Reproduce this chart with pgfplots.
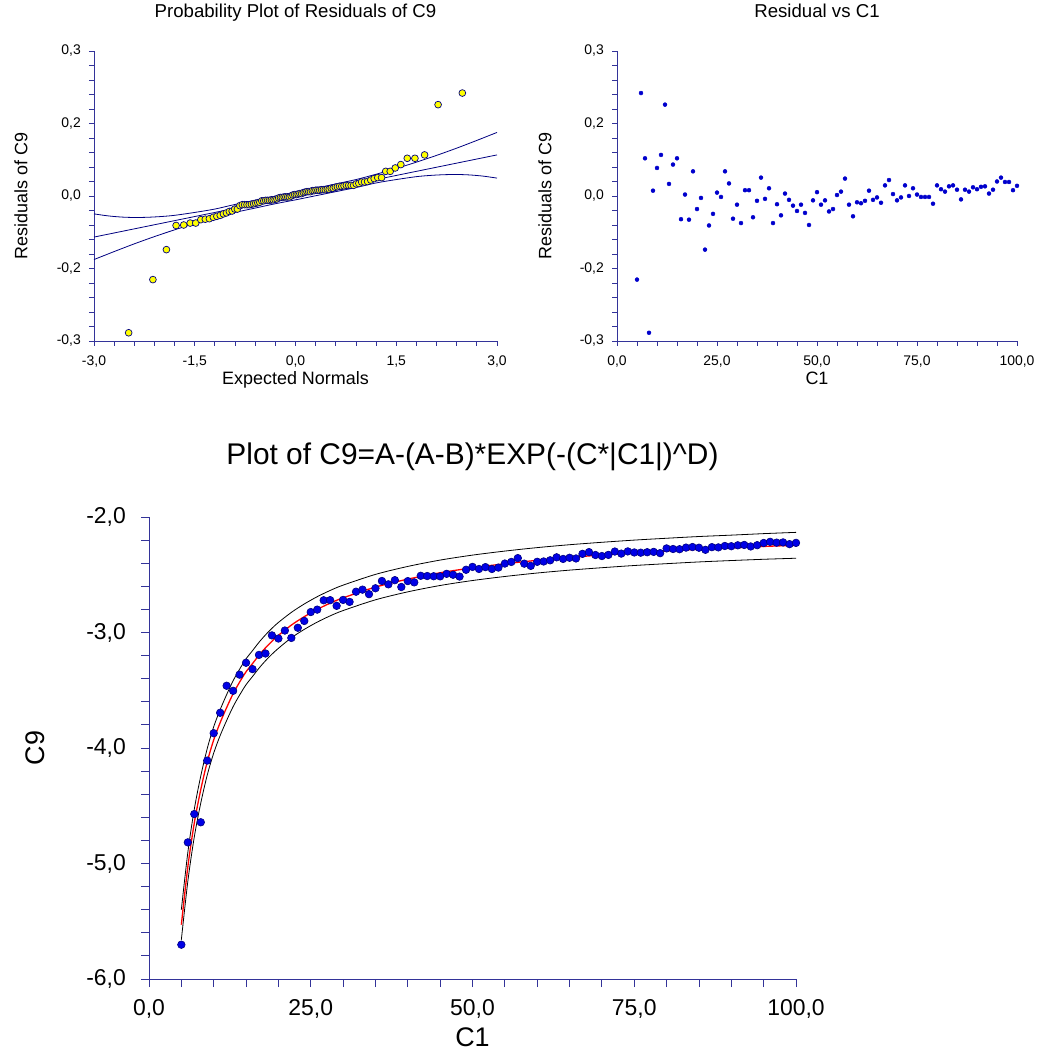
\documentclass[border=0pt]{standalone}
\usepackage{fontspec}
\setmainfont{Liberation Sans}
\usepackage{pgfplots}
\pgfplotsset{compat=1.18}

\definecolor{axisblue}{HTML}{333399}
\definecolor{navy}{HTML}{000080}
\definecolor{dotblue}{HTML}{0000CC}
\definecolor{markblue}{HTML}{0000E6}
\definecolor{markyellow}{HTML}{FFFF00}
\definecolor{fitred}{HTML}{FF0000}

\pgfplotsset{
  ncss/.style={
    scale only axis,
    clip=false,
    axis x line*=bottom,
    axis y line*=left,
    axis line style={axisblue, line width=0.9bp},
    tick style={axisblue, line width=0.9bp},
    tick align=outside,
    major tick length=5bp,
    minor tick length=5bp,
    minor tick num=4,
    xticklabel style={anchor=base, inner sep=0pt},
    yticklabel style={anchor=east, inner sep=0pt},
  },
  smallplot/.style={
    ncss,
    width=400bp, height=290bp,
    tick label style={font=\fontsize{14}{16}\selectfont},
    xticklabel style={yshift=-20bp},
    yticklabel style={xshift=-8bp},
    label style={font=\fontsize{18}{21}\selectfont},
    title style={font=\fontsize{18.7}{21}\selectfont, at={(axis description cs:0.5,1.095)}, anchor=base},
    xlabel style={at={(axis description cs:0.5,-0.1517)}, anchor=base},
    ylabel style={at={(axis description cs:-0.181,0.5)}, anchor=center},
    ymin=-0.3, ymax=0.3,
    ytick={-0.3,-0.15,0,0.15,0.3},
    yticklabels={{-0,3},{-0,2},{0,0},{0,2},{0,3}},
  },
}

\begin{document}
\begin{tikzpicture}
\useasboundingbox (0,0) rectangle (1048bp,1055bp);

% probability plot of the residuals
\begin{axis}[smallplot,
  at={(94bp,714bp)}, anchor=south west, width=403bp,
  xmin=-3, xmax=3,
  xtick={-3,-1.5,0,1.5,3},
  xticklabels={{-3,0},{-1,5},{0,0},{1,5},{3,0}},
  title={Probability Plot of Residuals of C9},
  xlabel={Expected Normals},
  ylabel={Residuals of C9},
]
\addplot[navy, line width=0.8bp] coordinates {(-3,-0.085) (3,0.085)};
\addplot[navy, line width=0.8bp, smooth] coordinates {
(-3.0,-0.037) (-2.8,-0.041) (-2.6,-0.0435) (-2.4,-0.0445) (-2.2,-0.044)
(-2.0,-0.0425) (-1.8,-0.040) (-1.5,-0.034) (-1.2,-0.027) (-0.9,-0.0175)
(-0.6,-0.009) (-0.3,-0.0005) (0,0.008) (0.3,0.016) (0.6,0.025) (0.9,0.034)
(1.2,0.045) (1.5,0.057) (1.8,0.070) (2.1,0.084) (2.4,0.099) (2.7,0.115) (3.0,0.1315)};
\addplot[navy, line width=0.8bp, smooth] coordinates {
(-3.0,-0.1315) (-2.7,-0.115) (-2.4,-0.099) (-2.1,-0.084) (-1.8,-0.070)
(-1.5,-0.057) (-1.2,-0.045) (-0.9,-0.034) (-0.6,-0.025) (-0.3,-0.016)
(0,-0.008) (0.3,0.0005) (0.6,0.009) (0.9,0.0175) (1.2,0.027) (1.5,0.034)
(1.8,0.040) (2.0,0.0425) (2.2,0.044) (2.4,0.0445) (2.6,0.0435) (2.8,0.041) (3.0,0.037)};
\addplot[only marks, mark=*, mark size=3.4bp,
  mark options={fill=markyellow, draw=navy, line width=0.7bp}] coordinates {
(-2.484,-0.283) (-2.123,-0.173) (-1.922,-0.111) (-1.778,-0.061) (-1.664,-0.060)
(-1.568,-0.056) (-1.485,-0.056) (-1.410,-0.049) (-1.343,-0.048) (-1.282,-0.047)
(-1.224,-0.044) (-1.171,-0.042) (-1.121,-0.040) (-1.073,-0.037) (-1.028,-0.035)
(-0.985,-0.032) (-0.943,-0.031) (-0.904,-0.027) (-0.865,-0.027) (-0.828,-0.020)
(-0.792,-0.018) (-0.757,-0.018) (-0.722,-0.018) (-0.689,-0.018) (-0.656,-0.017)
(-0.624,-0.016) (-0.593,-0.015) (-0.562,-0.014) (-0.532,-0.013) (-0.502,-0.010)
(-0.473,-0.010) (-0.444,-0.009) (-0.415,-0.009) (-0.387,-0.009) (-0.359,-0.008)
(-0.332,-0.008) (-0.304,-0.007) (-0.277,-0.006) (-0.250,-0.004) (-0.223,-0.003)
(-0.197,-0.003) (-0.170,-0.002) (-0.144,-0.002) (-0.117,-0.002) (-0.091,-0.002)
(-0.065,0.000) (-0.039,0.002) (-0.013,0.003) (0.013,0.003) (0.039,0.004)
(0.065,0.005) (0.091,0.005) (0.117,0.007) (0.144,0.008) (0.170,0.009)
(0.197,0.009) (0.223,0.009) (0.250,0.011) (0.277,0.011) (0.304,0.012)
(0.332,0.012) (0.359,0.012) (0.387,0.013) (0.415,0.013) (0.444,0.013)
(0.473,0.014) (0.502,0.014) (0.532,0.016) (0.562,0.016) (0.593,0.018)
(0.624,0.019) (0.656,0.020) (0.689,0.020) (0.722,0.021) (0.757,0.022)
(0.792,0.022) (0.828,0.022) (0.865,0.022) (0.904,0.025) (0.943,0.026)
(0.985,0.029) (1.028,0.029) (1.073,0.030) (1.121,0.033) (1.171,0.036)
(1.224,0.038) (1.282,0.038) (1.343,0.051) (1.410,0.051) (1.485,0.058)
(1.568,0.065) (1.664,0.078) (1.778,0.078) (1.922,0.085) (2.123,0.189) (2.484,0.213)};
\end{axis}

% residuals against C1
\begin{axis}[smallplot,
  at={(617bp,714bp)}, anchor=south west, width=400bp,
  xmin=0, xmax=100,
  xtick={0,25,50,75,100},
  xticklabels={{0,0},{25,0},{50,0},{75,0},{100,0}},
  title={Residual vs C1},
  xlabel={C1},
  ylabel={Residuals of C9},
  ylabel style={at={(axis description cs:-0.18,0.5)}},
]
\addplot[only marks, mark=*, mark size=2bp, dotblue] coordinates {
(5,-0.173) (6,0.213) (7,0.078) (8,-0.283) (9,0.011) (10,0.058) (11,0.085) (12,0.189)
(13,0.025) (14,0.065) (15,0.078) (16,-0.048) (17,0.003) (18,-0.049) (19,0.051) (20,-0.027)
(21,-0.004) (22,-0.111) (23,-0.061) (24,-0.037) (25,0.007) (26,-0.002) (27,0.051) (28,0.026)
(29,-0.047) (30,-0.018) (31,-0.056) (32,0.012) (33,0.012) (34,-0.044) (35,-0.010) (36,0.038)
(37,-0.006) (38,0.016) (39,-0.056) (40,-0.017) (41,-0.040) (42,0.005) (43,-0.008) (44,-0.020)
(45,-0.031) (46,-0.018) (47,-0.035) (48,-0.060) (49,-0.009) (50,0.008) (51,-0.018) (52,-0.009)
(53,-0.032) (54,-0.027) (55,0.002) (56,0.009) (57,0.036) (58,-0.018) (59,-0.042) (60,-0.013)
(61,-0.015) (62,-0.010) (63,0.011) (64,-0.008) (65,-0.003) (66,-0.014) (67,0.022) (68,0.033)
(69,0.004) (70,-0.009) (71,-0.003) (72,0.022) (73,0.000) (74,0.016) (75,0.003) (76,-0.002)
(77,-0.002) (78,-0.002) (79,-0.016) (80,0.022) (81,0.014) (82,0.009) (83,0.020) (84,0.022)
(85,0.013) (86,-0.007) (87,0.013) (88,0.009) (89,0.018) (90,0.014) (91,0.019) (92,0.020)
(93,0.005) (94,0.013) (95,0.030) (96,0.038) (97,0.029) (98,0.029) (99,0.012) (100,0.021)};
\end{axis}

% fitted curve with data
\begin{axis}[ncss,
  at={(149bp,76bp)}, anchor=south west, width=647bp, height=462bp,
  xmin=0, xmax=100, ymin=-6, ymax=-2,
  xtick={0,25,50,75,100},
  xticklabels={{0,0},{25,0},{50,0},{75,0},{100,0}},
  ytick={-6,-5,-4,-3,-2},
  yticklabels={{-6,0},{-5,0},{-4,0},{-3,0},{-2,0}},
  major tick length=8bp, minor tick length=8bp,
  tick label style={font=\fontsize{23}{26}\selectfont},
  xticklabel style={yshift=-28bp},
  yticklabel style={xshift=-15bp},
  label style={font=\fontsize{27}{30}\selectfont},
  title style={font=\fontsize{30}{33}\selectfont, at={(axis description cs:0.5,1.1),}, anchor=base},
  xlabel style={at={(axis description cs:0.5,-0.1465)}, anchor=base},
  ylabel style={at={(axis description cs:-0.176,0.5)}, anchor=center},
  title={Plot of C9=A-(A-B)*EXP(-(C*|C1|)\^{}D)},
  xlabel={C1},
  ylabel={C9},
]
\addplot[only marks, mark=*, mark size=3.8bp,
  mark options={fill=markblue, draw=navy, line width=0.6bp}] coordinates {
(5,-5.703) (6,-4.817) (7,-4.572) (8,-4.643) (9,-4.109) (10,-3.872) (11,-3.695) (12,-3.461)
(13,-3.505) (14,-3.365) (15,-3.262) (16,-3.317) (17,-3.194) (18,-3.182) (19,-3.025) (20,-3.052)
(21,-2.983) (22,-3.047) (23,-2.959) (24,-2.900) (25,-2.823) (26,-2.802) (27,-2.721) (28,-2.720)
(29,-2.769) (30,-2.718) (31,-2.735) (32,-2.647) (33,-2.629) (34,-2.668) (35,-2.617) (36,-2.554)
(37,-2.583) (38,-2.547) (39,-2.606) (40,-2.555) (41,-2.566) (42,-2.509) (43,-2.511) (44,-2.513)
(45,-2.514) (46,-2.492) (47,-2.500) (48,-2.516) (49,-2.457) (50,-2.432) (51,-2.450) (52,-2.434)
(53,-2.450) (54,-2.438) (55,-2.403) (56,-2.389) (57,-2.356) (58,-2.404) (59,-2.423) (60,-2.388)
(61,-2.385) (62,-2.375) (63,-2.349) (64,-2.363) (65,-2.353) (66,-2.359) (67,-2.319) (68,-2.304)
(69,-2.329) (70,-2.338) (71,-2.328) (72,-2.299) (73,-2.317) (74,-2.298) (75,-2.307) (76,-2.309)
(77,-2.305) (78,-2.302) (79,-2.313) (80,-2.272) (81,-2.277) (82,-2.279) (83,-2.265) (84,-2.260)
(85,-2.266) (86,-2.284) (87,-2.261) (88,-2.263) (89,-2.251) (90,-2.253) (91,-2.245) (92,-2.242)
(93,-2.255) (94,-2.244) (95,-2.225) (96,-2.215) (97,-2.222) (98,-2.220) (99,-2.235) (100,-2.224)};
\addplot[black, line width=0.8bp, smooth] coordinates {
(5,-5.40) (6,-4.905) (7,-4.53) (8,-4.243) (9,-4.005) (10,-3.816) (11,-3.668) (12,-3.538)
(13,-3.418) (14,-3.318) (15,-3.228) (16,-3.157) (17,-3.085) (18,-3.021) (19,-2.964) (20,-2.913)
(22,-2.826) (24,-2.753) (26,-2.690) (28,-2.636) (30,-2.590) (35,-2.497) (40,-2.428) (45,-2.373)
(50,-2.330) (55,-2.295) (60,-2.265) (65,-2.240) (70,-2.219) (75,-2.200) (80,-2.184) (85,-2.169)
(90,-2.157) (95,-2.144) (100,-2.133)};
\addplot[black, line width=0.8bp, smooth] coordinates {
(5,-5.66) (6,-5.155) (7,-4.77) (8,-4.477) (9,-4.235) (10,-4.044) (11,-3.892) (12,-3.762)
(13,-3.642) (14,-3.542) (15,-3.452) (16,-3.381) (17,-3.309) (18,-3.245) (19,-3.188) (20,-3.137)
(22,-3.046) (24,-2.973) (26,-2.910) (28,-2.856) (30,-2.810) (35,-2.717) (40,-2.648) (45,-2.593)
(50,-2.550) (55,-2.515) (60,-2.485) (65,-2.460) (70,-2.439) (75,-2.420) (80,-2.404) (85,-2.389)
(90,-2.377) (95,-2.366) (100,-2.357)};
\addplot[fitred, line width=1.3bp, smooth] coordinates {
(5,-5.53) (6,-5.03) (7,-4.65) (8,-4.36) (9,-4.12) (10,-3.93) (11,-3.78) (12,-3.65)
(13,-3.53) (14,-3.43) (15,-3.34) (16,-3.269) (17,-3.197) (18,-3.133) (19,-3.076) (20,-3.025)
(22,-2.936) (24,-2.863) (26,-2.800) (28,-2.746) (30,-2.700) (35,-2.607) (40,-2.538) (45,-2.483)
(50,-2.440) (55,-2.405) (60,-2.375) (65,-2.350) (70,-2.329) (75,-2.310) (80,-2.294) (85,-2.279)
(90,-2.267) (95,-2.255) (100,-2.245)};
\end{axis}
\end{tikzpicture}
\end{document}
